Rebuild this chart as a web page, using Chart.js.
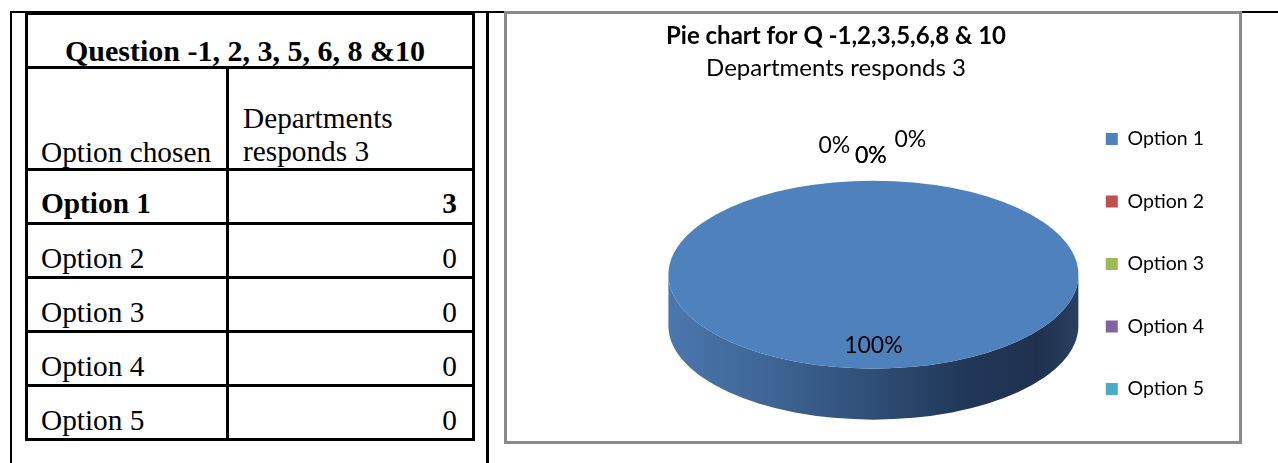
<!DOCTYPE html>
<html>
<head>
<meta charset="utf-8">
<script src="https://cdn.jsdelivr.net/npm/chart.js"></script>
<style>
  html, body { margin: 0; padding: 0; background: #fff; }
  body { width: 1278px; height: 463px; position: relative; overflow: hidden; }
  .line { position: absolute; background: #000; }
  #tbl {
    position: absolute; left: 25px; top: 12px; width: 450px;
    box-sizing: border-box; table-layout: fixed;
    border-collapse: separate; border-spacing: 0;
    border-top: 3px solid #000; border-left: 3px solid #000;
    font-family: "Liberation Serif", serif; font-size: 29.3px; color: #000;
  }
  #tbl td {
    box-sizing: border-box; border-right: 3px solid #000; border-bottom: 3px solid #000;
    padding: 0 0 3px 13px; vertical-align: bottom; line-height: 30px; height: 54px;
  }
  #tbl tr.title td { text-align: center; font-weight: bold; padding: 0 10px 0 0; font-size: 30px; }
  #tbl tr.head td { height: 102px; padding-bottom: 1px; }
  #tbl tr.head td.two { line-height: 33px; padding: 0 0 0 14px; }
  #tbl tr.top td { font-weight: bold; padding-bottom: 4px; }
  #tbl td.num { text-align: right; padding-left: 0; padding-right: 15px; }
  #box {
    position: absolute; left: 504px; top: 11px; width: 738px; height: 433px;
    box-sizing: border-box; border: 3px solid #8a8a8a; background: #fff;
  }
  #pie { position: absolute; left: 458px; top: 0; }
</style>
</head>
<body>
<div class="line" style="left:10px;top:11px;width:2px;height:452px"></div>
<div class="line" style="left:10px;top:11px;width:1268px;height:2px"></div>
<div class="line" style="left:486px;top:11px;width:3px;height:452px"></div>
<table id="tbl"></table>
<div id="box"></div>
<canvas id="pie" width="756" height="463"></canvas>
<script>
// data
var optionLabels = ['Option 1', 'Option 2', 'Option 3', 'Option 4', 'Option 5'];
var responses = [3, 0, 0, 0, 0];
var optionColors = ['#4F81BD', '#C0504D', '#9BBB59', '#8064A2', '#4BACC6'];
var tableTitle = 'Question -1, 2, 3, 5, 6, 8 &10';
var columnHeads = ['Option chosen', 'Departments responds 3'];
var chartTitle = 'Pie chart for Q -1,2,3,5,6,8 & 10';
var chartSubtitle = 'Departments responds 3';

function esc(s) { return s.replace(/&/g, '&amp;'); }

function fillTable() {
    var html = '<colgroup><col style="width:201px"><col style="width:246px"></colgroup>';
    html += '<tr class="title"><td colspan="2">' + esc(tableTitle) + '</td></tr>';
    html += '<tr class="head"><td>' + columnHeads[0] + '</td><td class="two">' + columnHeads[1] + '</td></tr>';
    for (var i = 0; i < optionLabels.length; i++) {
        html += '<tr class="opt' + (i == 0 ? ' top' : '') + '"><td>' + optionLabels[i] +
            '</td><td class="num">' + responses[i] + '</td></tr>';
    }
    document.getElementById('tbl').innerHTML = html;
}

// 3d look: squash the pie to an ellipse and add a shaded wall under it
var SQUASH = 94 / 205;
var DEPTH = 51;
var PLOT_LEFT = 226;
var ZERO_SPOTS = [[-39, -1.37], [-2.5, -1.27], [-2.5, -1.27], [37, -1.44]];

var tiltPlugin = {
    id: 'tilt',
    afterLayout: function (chart) {
        // plot sits right of the title centre in the source
        var a = chart.chartArea;
        a.left = PLOT_LEFT;
        a.width = a.right - a.left;
    },
    beforeDatasetsDraw: function (chart) {
        var ctx = chart.ctx;
        var arcs = chart.getDatasetMeta(0).data;
        var cx = arcs[0].x, cy = arcs[0].y;
        ctx.save();
        ctx.translate(cx, cy);
        ctx.scale(1, SQUASH);
        ctx.translate(-cx, -cy);
        var d = DEPTH / SQUASH;
        arcs.forEach(function (a) {
            var s = Math.max(a.startAngle, 0), e = Math.min(a.endAngle, Math.PI);
            if (e <= s) return;
            var r = a.outerRadius;
            var g = ctx.createLinearGradient(a.x - r, 0, a.x + r, 0);
            g.addColorStop(0, '#4a77ae');
            g.addColorStop(0.25, '#3e6595');
            g.addColorStop(0.5, '#2f4e76');
            g.addColorStop(0.72, '#213858');
            g.addColorStop(0.9, '#1f314f');
            g.addColorStop(1, '#29405f');
            ctx.beginPath();
            ctx.arc(a.x, a.y + d, r, s, e);
            ctx.lineTo(a.x + r * Math.cos(e), a.y + r * Math.sin(e));
            ctx.arc(a.x, a.y, r, e, s, true);
            ctx.closePath();
            ctx.fillStyle = g;
            ctx.fill();
        });
    },
    afterDatasetsDraw: function (chart) {
        var ctx = chart.ctx;
        ctx.restore();
        var arcs = chart.getDatasetMeta(0).data;
        var total = responses.reduce(function (p, v) { return p + v; }, 0);
        ctx.save();
        ctx.font = '23px Lato';
        ctx.fillStyle = '#000';
        ctx.textAlign = 'center';
        ctx.textBaseline = 'middle';
        var z = 0;
        arcs.forEach(function (a, i) {
            var txt = Math.round(responses[i] / total * 100) + '%';
            var ry = a.outerRadius * SQUASH;
            var lx, ly;
            if (responses[i] > 0) {
                var mid = (a.startAngle + a.endAngle) / 2;
                lx = a.x + Math.cos(mid) * a.outerRadius * 0.75;
                ly = a.y + Math.sin(mid) * ry * 0.75;
            } else {
                var sp = ZERO_SPOTS[z++];
                lx = a.x + sp[0];
                ly = a.y + sp[1] * ry;
            }
            ctx.fillText(txt, lx, ly);
        });
        ctx.restore();
    }
};

function drawPie() {
    Chart.defaults.font.family = 'Lato';
    Chart.defaults.color = '#000';
    new Chart(document.getElementById('pie'), {
        type: 'pie',
        data: {
            labels: optionLabels,
            datasets: [{
                data: responses,
                backgroundColor: optionColors,
                borderWidth: 0,
                radius: 205,
                clip: false
            }]
        },
        options: {
            responsive: false,
            animation: false,
            events: [],
            plugins: {
                title: {
                    display: true, text: chartTitle,
                    font: { size: 24, weight: 'bold' },
                    padding: { top: 21.5, bottom: 2 }
                },
                subtitle: {
                    display: true, text: chartSubtitle,
                    font: { size: 24 },
                    padding: { top: 1.3, bottom: 3.85 }
                },
                legend: {
                    position: 'right', align: 'start', fullSize: false,
                    labels: { boxWidth: 12, boxHeight: 12, padding: 43, font: { size: 19.5 } }
                },
                tooltip: { enabled: false }
            }
        },
        plugins: [tiltPlugin]
    });
}

fillTable();
drawPie();
</script>
</body>
</html>
